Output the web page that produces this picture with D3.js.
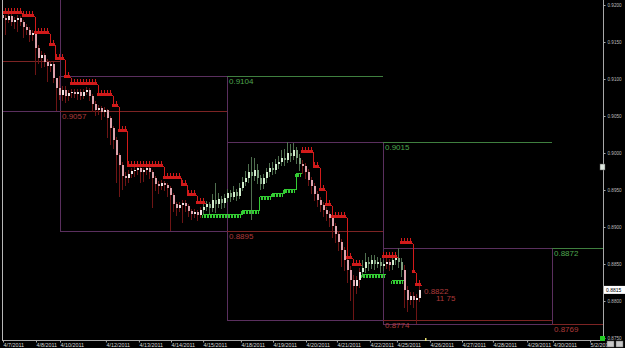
<!DOCTYPE html>
<html>
<head>
<meta charset="utf-8">
<script src="https://d3js.org/d3.v7.min.js"></script>
<style>
  html, body { margin: 0; padding: 0; background: #000; }
  svg { display: block; }
  text { font-family: "Liberation Sans", Arial, sans-serif; }
</style>
</head>
<body>
<svg id="chart" width="625" height="348"></svg>
<script>
// bar values, one per 2h slot
const opens = [
  0.9186,0.9182,0.9180,0.9185,0.9177,0.9180,0.9182,0.9177,0.9170,0.9166,
  0.9159,0.9162,0.9142,0.9128,0.9132,0.9123,0.9118,0.9120,0.9101,0.9088,
  0.9078,0.9085,0.9077,0.9081,0.9082,0.9080,0.9082,0.9077,0.9082,0.9085,
  0.9077,0.9066,0.9058,0.9061,0.9055,0.9058,0.9047,0.9034,0.9018,0.8997,
  0.8984,0.8969,0.8966,0.8972,0.8976,0.8977,0.8980,0.8974,0.8977,0.8980,
  0.8974,0.8966,0.8958,0.8955,0.8959,0.8957,0.8953,0.8943,0.8931,0.8926,
  0.8930,0.8932,0.8928,0.8922,0.8918,0.8920,0.8916,0.8923,0.8927,0.8931,
  0.8926,0.8936,0.8931,0.8938,0.8932,0.8939,0.8946,0.8941,0.8947,0.8942,
  0.8953,0.8961,0.8966,0.8974,0.8969,0.8977,0.8966,0.8958,0.8966,0.8974,
  0.8980,0.8977,0.8985,0.8988,0.8993,0.8991,0.9000,0.8996,0.9004,0.8993,
  0.8985,0.8982,0.8974,0.8964,0.8955,0.8945,0.8936,0.8930,0.8923,0.8918,
  0.8912,0.8901,0.8891,0.8880,0.8869,0.8855,0.8842,0.8828,0.8820,0.8828,
  0.8839,0.8845,0.8853,0.8850,0.8855,0.8850,0.8853,0.8847,0.8850,0.8853,
  0.8848,0.8855,0.8858,0.8853,0.8842,0.8815,0.8801,0.8807,0.8801,0.8804
];
const closes = [
  0.9182,0.9180,0.9185,0.9177,0.9180,0.9182,0.9177,0.9170,0.9166,0.9159,
  0.9162,0.9142,0.9128,0.9132,0.9123,0.9118,0.9120,0.9101,0.9088,0.9078,
  0.9085,0.9077,0.9081,0.9082,0.9080,0.9082,0.9077,0.9082,0.9085,0.9077,
  0.9066,0.9058,0.9061,0.9055,0.9058,0.9047,0.9034,0.9018,0.8997,0.8984,
  0.8969,0.8966,0.8972,0.8976,0.8977,0.8980,0.8974,0.8977,0.8980,0.8974,
  0.8966,0.8958,0.8955,0.8959,0.8957,0.8953,0.8943,0.8931,0.8926,0.8930,
  0.8932,0.8928,0.8922,0.8918,0.8920,0.8916,0.8923,0.8927,0.8931,0.8926,
  0.8936,0.8931,0.8938,0.8932,0.8939,0.8946,0.8941,0.8947,0.8942,0.8953,
  0.8961,0.8966,0.8974,0.8969,0.8977,0.8966,0.8958,0.8966,0.8974,0.8980,
  0.8977,0.8985,0.8988,0.8993,0.8991,0.9000,0.8996,0.9004,0.8993,0.8985,
  0.8982,0.8974,0.8964,0.8955,0.8945,0.8936,0.8930,0.8923,0.8918,0.8912,
  0.8901,0.8891,0.8880,0.8869,0.8855,0.8842,0.8828,0.8820,0.8828,0.8839,
  0.8845,0.8853,0.8850,0.8855,0.8850,0.8853,0.8847,0.8850,0.8853,0.8848,
  0.8855,0.8858,0.8853,0.8842,0.8815,0.8801,0.8807,0.8801,0.8804,0.8815
];
const highs = [
  0.9190,0.9186,0.9189,0.9188,0.9184,0.9186,0.9185,0.9180,0.9174,0.9170,
  0.9166,0.9165,0.9146,0.9138,0.9135,0.9127,0.9124,0.9123,0.9102,0.9104,
  0.9090,0.9090,0.9085,0.9087,0.9086,0.9086,0.9086,0.9086,0.9089,0.9088,
  0.9080,0.9070,0.9065,0.9064,0.9062,0.9060,0.9050,0.9037,0.9021,0.9000,
  0.8988,0.8974,0.8977,0.8980,0.8981,0.8982,0.8982,0.8980,0.8982,0.8982,
  0.8977,0.8969,0.8962,0.8963,0.8962,0.8960,0.8956,0.8946,0.8934,0.8934,
  0.8936,0.8936,0.8931,0.8925,0.8924,0.8923,0.8927,0.8931,0.8935,0.8934,
  0.8945,0.8959,0.8946,0.8942,0.8945,0.8952,0.8950,0.8955,0.8952,0.8960,
  0.8968,0.8976,0.8985,0.8995,0.8993,0.8985,0.8970,0.8972,0.8980,0.8986,
  0.8988,0.8992,0.8996,0.9004,0.9005,0.9015,0.9012,0.9013,0.9008,0.8998,
  0.8990,0.8986,0.8978,0.8968,0.8959,0.8949,0.8940,0.8934,0.8927,0.8921,
  0.8915,0.8905,0.8895,0.8884,0.8873,0.8857,0.8847,0.8835,0.8834,0.8845,
  0.8856,0.8865,0.8860,0.8862,0.8862,0.8860,0.8858,0.8856,0.8858,0.8857,
  0.8859,0.8862,0.8872,0.8858,0.8848,0.8820,0.8812,0.8812,0.8810,0.8822
];
const lows = [
  0.9178,0.9160,0.9176,0.9172,0.9168,0.9163,0.9172,0.9155,0.9160,0.9150,
  0.9152,0.9105,0.9120,0.9115,0.9116,0.9096,0.9110,0.9095,0.9057,0.9072,
  0.9070,0.9068,0.9070,0.9075,0.9074,0.9072,0.9071,0.9073,0.9078,0.9070,
  0.9055,0.9050,0.9052,0.9045,0.9048,0.9020,0.9011,0.9005,0.8960,0.8941,
  0.8950,0.8955,0.8960,0.8966,0.8968,0.8970,0.8960,0.8961,0.8970,0.8965,
  0.8926,0.8948,0.8945,0.8950,0.8948,0.8940,0.8895,0.8920,0.8915,0.8920,
  0.8905,0.8920,0.8914,0.8910,0.8912,0.8908,0.8912,0.8918,0.8922,0.8918,
  0.8920,0.8919,0.8926,0.8925,0.8926,0.8934,0.8934,0.8936,0.8935,0.8938,
  0.8948,0.8955,0.8960,0.8910,0.8962,0.8958,0.8950,0.8952,0.8960,0.8968,
  0.8970,0.8972,0.8978,0.8982,0.8983,0.8986,0.8988,0.8990,0.8985,0.8976,
  0.8972,0.8965,0.8955,0.8945,0.8935,0.8927,0.8920,0.8914,0.8908,0.8900,
  0.8885,0.8878,0.8868,0.8846,0.8840,0.8825,0.8800,0.8774,0.8810,0.8818,
  0.8832,0.8838,0.8840,0.8843,0.8842,0.8845,0.8838,0.8840,0.8843,0.8840,
  0.8842,0.8848,0.8845,0.8832,0.8790,0.8785,0.8795,0.8790,0.8769,0.8798
];

// trailing stops: [first slot, last slot, level]
const redStops = [
  [0,6,0.9189],[7,10,0.9185],[11,15,0.9162],[16,17,0.9146],[18,20,0.9127],
  [21,22,0.9103],[23,31,0.9093],[32,36,0.9078],[37,38,0.9064],[39,41,0.9030],
  [42,53,0.8982],[54,59,0.8966],[60,61,0.8957],[62,64,0.8943],[65,67,0.8932],
  [100,103,0.9001],[104,105,0.8981],[106,107,0.8950],[108,109,0.8930],[110,114,0.8913],
  [115,116,0.8858],[117,119,0.8849],[127,131,0.8860],[133,136,0.8878],[137,137,0.8839],
  [138,139,0.8822]
];
const greenStops = [
  [67,79,0.8917],[80,85,0.8923],[86,89,0.8942],[90,93,0.8946],[94,97,0.8951],
  [98,99,0.8973],[120,127,0.8836],[130,133,0.8828]
];

// weekly ranges (slot bounds), previous-week high/low levels
const weekBounds = [-0.33, 19, 74.67, 126.67, 183, 200];
const weekHighs = [0.9240, 0.9104, 0.9015, 0.8872];
const weekLows = [0.9057, 0.8895, 0.8774, 0.8769];
const prevHighs = [null, 0.9240, 0.9104, 0.9015, 0.8872];
const prevLows = [0.9124, 0.9057, 0.8895, 0.8774, 0.8769];

const yTicks = [0.875, 0.880, 0.885, 0.890, 0.895, 0.900, 0.905, 0.910, 0.915, 0.920];
const dateLabels = ["4/7/2011","4/8/2011","4/10/2011","4/12/2011","4/13/2011","4/14/2011","4/15/2011",
  "4/18/2011","4/19/2011","4/20/2011","4/21/2011","4/22/2011","4/25/2011","4/26/2011","4/27/2011",
  "4/28/2011","4/29/2011","4/30/2011","5/2/2011"];
const dateSlots = [0, 11, 19, 34.3, 45.3, 56, 66.7, 79.3, 90, 101, 111.3, 122.3, 131.3, 142.3, 153, 163.3, 174.7, 183.3, 195.7];

const lastPrice = 0.8815;
const stopLevel = 0.8822;
const timerLabel = "11 75";

const W = 625, H = 348;
const svg = d3.select("#chart");
svg.append("rect").attr("width", W).attr("height", H).attr("fill", "#000");

const x = d3.scaleLinear().domain([0, 200]).range([3, 603]);
const y = d3.scaleLinear().domain([0.875, 0.92]).range([338, 5]);
const f4 = d3.format(".4f");

svg.append("clipPath").attr("id", "plot")
  .append("rect").attr("x", 2).attr("y", 0).attr("width", 601).attr("height", 340);

const g = svg.append("g").attr("clip-path", "url(#plot)").attr("shape-rendering", "crispEdges");

const purple = "#5a2f5e", gLine = "#3f7f3f", rLine = "#7c2424";
const gText = "#4fa64f", rText = "#ad3a3a";

// week boxes
weekHighs.forEach((hi, i) => {
  const x0 = Math.round(x(weekBounds[i])) + 0.5, x1 = Math.round(x(weekBounds[i + 1])) + 0.5;
  const y0 = Math.round(y(hi)) + 0.5, y1 = Math.round(y(weekLows[i])) + 0.5;
  g.append("rect").attr("x", x0).attr("y", y0).attr("width", x1 - x0).attr("height", y1 - y0)
    .attr("fill", "none").attr("stroke", purple);
});

// previous week high / low lines with labels
prevLows.forEach((lo, i) => {
  const x0 = Math.round(x(weekBounds[i])), x1 = Math.round(x(weekBounds[i + 1]));
  const yl = Math.round(y(lo)) + 0.5;
  g.append("line").attr("x1", x0).attr("x2", x1).attr("y1", yl).attr("y2", yl).attr("stroke", rLine);
  if (i > 0) {
    g.append("text").attr("x", x0 + 2).attr("y", yl + 7.5).attr("fill", rText)
      .attr("font-size", 8).text(f4(lo));
  }
  const hi = prevHighs[i];
  if (hi !== null) {
    const yh = Math.round(y(hi)) + 0.5;
    g.append("line").attr("x1", x0).attr("x2", x1).attr("y1", yh).attr("y2", yh).attr("stroke", gLine);
    if (hi < 0.92) {
      g.append("text").attr("x", x0 + 2).attr("y", yh + 7.5).attr("fill", gText)
        .attr("font-size", 8).text(f4(hi));
    }
  }
});

// trend per slot: green stop active means up
const inGreen = i => greenStops.some(s => i >= s[0] && i <= s[1]);

// candles
const bars = g.append("g");
closes.forEach((c, i) => {
  const o = opens[i];
  const up = inGreen(i);
  const cx = Math.round(x(i));
  const wick = up ? "#4f6f4f" : "#6e1515";
  let body;
  if (up) body = c >= o ? "#d3efcf" : "#7d9f7d";
  else body = c >= o ? "#f3e3e3" : "#dda2ac";
  bars.append("line").attr("x1", cx - 0.5).attr("x2", cx - 0.5)
    .attr("y1", y(highs[i])).attr("y2", y(lows[i])).attr("stroke", wick);
  const top = y(Math.max(o, c)), bot = y(Math.min(o, c));
  bars.append("rect").attr("x", cx - 1).attr("y", top).attr("width", 2)
    .attr("height", Math.max(1, bot - top)).attr("fill", body);
});

// stop markers
function drawStops(list, color, dir) {
  const sg = g.append("g").attr("stroke", color).attr("fill", "none");
  list.forEach((s, k) => {
    const ys = Math.round(y(s[2])) + 0.5;
    sg.append("line").attr("x1", x(s[0]) - 1.5).attr("x2", x(s[1]) + 1.5)
      .attr("y1", ys).attr("y2", ys);
    const next = list[k + 1];
    if (next && next[0] === s[1] + 1) {
      const xc = Math.round(x(s[1] + 0.5)) + 0.5;
      sg.append("line").attr("x1", xc).attr("x2", xc)
        .attr("y1", ys).attr("y2", Math.round(y(next[2])) + 0.5);
    }
    d3.range(s[0], s[1] + 1).forEach(i => {
      const cx = Math.round(x(i)) - 0.5;
      if (dir < 0) {
        sg.append("path").attr("d", `M${cx - 1.5},${ys} L${cx},${ys - 4} L${cx + 1.5},${ys} M${cx},${ys - 4} V${ys}`);
      } else {
        sg.append("path").attr("d", `M${cx - 1},${ys} V${ys + 3} M${cx + 1},${ys} V${ys + 3}`);
      }
    });
  });
}
drawStops(redStops, "#d11a1a", -1);
drawStops(greenStops, "#33cc33", 1);

// stop / timer text at last bar
const lastX = x(closes.length - 1);
const sy = y(stopLevel);
svg.append("text").attr("x", lastX + 4).attr("y", sy + 9).attr("fill", rText)
  .attr("font-size", 8).text(f4(stopLevel));
svg.append("text").attr("x", lastX + 16).attr("y", sy + 16.5).attr("fill", rText)
  .attr("font-size", 8).text(timerLabel);

// frame lines
svg.append("line").attr("x1", 2.5).attr("x2", 2.5).attr("y1", 0).attr("y2", 340).attr("stroke", "#b8b8b8");
svg.append("line").attr("x1", 603.5).attr("x2", 603.5).attr("y1", 0).attr("y2", 340).attr("stroke", "#a8a8a8");
svg.append("line").attr("x1", 2).attr("x2", 604).attr("y1", 340.5).attr("y2", 340.5).attr("stroke", "#a8a8a8");

// right price axis
const yAxis = svg.append("g").attr("transform", "translate(603.5,0)")
  .call(d3.axisRight(y).tickValues(yTicks).tickSize(2).tickSizeOuter(0).tickFormat(f4));
yAxis.select(".domain").remove();
yAxis.selectAll("line").attr("stroke", "#aaa");
yAxis.selectAll("text").attr("fill", "#bdbdbd").attr("font-size", 4.6).attr("x", 4).attr("dy", "0.35em");

// bottom date axis
const xAxis = svg.append("g").attr("transform", "translate(0,340.5)")
  .call(d3.axisBottom(x).tickValues(dateSlots).tickSize(2).tickSizeOuter(0).tickFormat((d, i) => dateLabels[i]));
xAxis.select(".domain").remove();
xAxis.selectAll("line").attr("stroke", "#aaa");
xAxis.selectAll("text").attr("fill", "#d8d8d8").attr("font-size", 5.4)
  .attr("text-anchor", "start").attr("y", 2).attr("dy", "0.75em");

// last price tag
const py = y(lastPrice);
svg.append("rect").attr("x", 604).attr("y", py - 4).attr("width", 21).attr("height", 8).attr("fill", "#fff");
svg.append("text").attr("x", 606).attr("y", py + 2).attr("fill", "#000").attr("font-size", 5).text(f4(lastPrice));

// small widgets
svg.append("rect").attr("x", 600).attr("y", 164).attr("width", 5).attr("height", 6).attr("fill", "#dfe8df").attr("stroke", "#555").attr("stroke-width", 0.5);
svg.append("rect").attr("x", 600).attr("y", 336).attr("width", 5).attr("height", 5).attr("fill", "#22cc22");
svg.append("rect").attr("x", 425).attr("y", 338).attr("width", 1.5).attr("height", 3).attr("fill", "#e8e070");
[607, 616].forEach(bx => {
  svg.append("rect").attr("x", bx).attr("y", 341).attr("width", 7).attr("height", 6).attr("fill", "#c8c8c8").attr("stroke", "#666").attr("stroke-width", 0.5);
});
</script>
</body>
</html>
